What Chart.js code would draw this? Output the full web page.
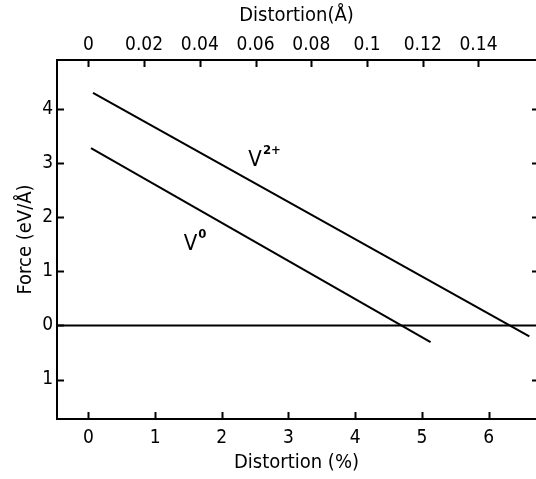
<!DOCTYPE html>
<html>
<head>
<meta charset="utf-8">
<script src="https://cdn.jsdelivr.net/npm/chart.js@4.4.0/dist/chart.umd.min.js"></script>
<style>
  html, body { margin: 0; padding: 0; background: #fff; }
  #wrap { width: 536px; height: 479px; position: relative; }
</style>
</head>
<body>
<div id="wrap"><canvas id="c" width="536" height="479"></canvas></div>
<script>
// ---- data ----
const pctTicks = [0, 1, 2, 3, 4, 5, 6];
const angTicks = [0, 0.02, 0.04, 0.06, 0.08, 0.10, 0.12, 0.14];
const forceTicks = [-1, 0, 1, 2, 3, 4];
const v2Distortion = [0.07, 6.61];
const v2Force = [4.30, -0.20];
const v0Distortion = [0.04, 5.13];
const v0Force = [3.28, -0.31];
const zeroDistortion = [-0.47, 6.71];
const zeroForce = [0, 0];
const labelV2 = { x: 2.50, y: 3.11, text: 'V', sup: '2+' };
const labelV0 = { x: 1.53, y: 1.57, text: 'V', sup: '0' };
const angPerPct = 0.02394;

const FONT = '"DejaVu Sans Condensed", "DejaVu Sans", sans-serif';

function pts(xs, ys) { return xs.map((x, i) => ({ x: x, y: ys[i] })); }

const inwardTicks = {
  id: 'inwardTicks',
  afterDraw(chart) {
    const ctx = chart.ctx, a = chart.chartArea;
    ctx.save();
    ctx.strokeStyle = '#000';
    ctx.lineWidth = 2;
    const L = 7;
    const sx = chart.scales.x, sx2 = chart.scales.x2, sy = chart.scales.y;
    pctTicks.forEach(v => {
      const px = Math.round(sx.getPixelForValue(v)) + 0.5;
      ctx.beginPath(); ctx.moveTo(px, a.bottom); ctx.lineTo(px, a.bottom - L); ctx.stroke();
    });
    angTicks.forEach(v => {
      const px = Math.round(sx2.getPixelForValue(v)) + 0.5;
      ctx.beginPath(); ctx.moveTo(px, a.top); ctx.lineTo(px, a.top + L); ctx.stroke();
    });
    forceTicks.forEach(v => {
      const py = Math.round(sy.getPixelForValue(v)) + 0.5;
      ctx.beginPath(); ctx.moveTo(a.left, py); ctx.lineTo(a.left + L, py); ctx.stroke();
      if (v !== 0) {
        ctx.beginPath(); ctx.moveTo(a.right - 4, py); ctx.lineTo(a.right, py); ctx.stroke();
      }
    });
    // curve labels
    ctx.fillStyle = '#000';
    ctx.textBaseline = 'alphabetic';
    [labelV2, labelV0].forEach(l => {
      const px = sx.getPixelForValue(l.x), py = sy.getPixelForValue(l.y);
      ctx.font = '22px ' + FONT;
      ctx.textAlign = 'center';
      ctx.fillText(l.text, px, py + 9);
      const w = ctx.measureText(l.text).width;
      ctx.font = 'bold 13px ' + FONT;
      ctx.textAlign = 'left';
      ctx.fillText(l.sup, px + w / 2 + 1, py - 3);
    });
    ctx.restore();
  }
};

new Chart(document.getElementById('c'), {
  type: 'scatter',
  data: {
    datasets: [
      { data: pts(v2Distortion, v2Force), showLine: true, borderColor: '#000', borderWidth: 2, pointRadius: 0, fill: false },
      { data: pts(v0Distortion, v0Force), showLine: true, borderColor: '#000', borderWidth: 2, pointRadius: 0, fill: false },
      { data: pts(zeroDistortion, zeroForce), showLine: true, borderColor: '#000', borderWidth: 2, pointRadius: 0, fill: false }
    ]
  },
  plugins: [inwardTicks],
  options: {
    responsive: false,
    animation: false,
    devicePixelRatio: 1,
    layout: { padding: { left: 0, right: 0, top: 0, bottom: 0 } },
    plugins: { legend: { display: false }, tooltip: { enabled: false } },
    scales: {
      x: {
        type: 'linear', position: 'bottom',
        min: zeroDistortion[0], max: zeroDistortion[1],
        afterBuildTicks: s => { s.ticks = pctTicks.map(v => ({ value: v })); },
        afterFit: s => { s.height = 60; },
        grid: { display: false, drawTicks: false },
        border: { display: true, color: '#000', width: 2 },
        ticks: { color: '#000', font: { family: FONT, size: 19 }, padding: 8, maxRotation: 0 },
        title: { display: true, text: 'Distortion (%)', color: '#000', font: { family: FONT, size: 20 }, padding: { top: 0, bottom: 4 } }
      },
      x2: {
        type: 'linear', position: 'top',
        min: zeroDistortion[0] * angPerPct, max: zeroDistortion[1] * angPerPct,
        afterBuildTicks: s => { s.ticks = angTicks.map(v => ({ value: v })); },
        afterFit: s => { s.height = 60; },
        grid: { display: false, drawTicks: false },
        border: { display: true, color: '#000', width: 2 },
        ticks: { color: '#000', font: { family: FONT, size: 19 }, padding: 4, maxRotation: 0,
                 callback: v => String(Math.round(v * 100) / 100) },
        title: { display: true, text: 'Distortion(Å)', color: '#000', font: { family: FONT, size: 20 }, padding: { top: 4, bottom: 0 } }
      },
      y: {
        type: 'linear', position: 'left',
        min: -1.73, max: 4.91,
        afterBuildTicks: s => { s.ticks = forceTicks.map(v => ({ value: v })); },
        afterFit: s => { s.width = 57; },
        grid: { display: false, drawTicks: false },
        border: { display: true, color: '#000', width: 2 },
        ticks: { color: '#000', font: { family: FONT, size: 19 }, padding: 4,
                 callback: v => String(Math.abs(v)) },
        title: { display: true, text: 'Force (eV/Å)', color: '#000', font: { family: FONT, size: 20 }, padding: { top: 14, bottom: 0 } }
      }
    }
  }
});
</script>
</body>
</html>
